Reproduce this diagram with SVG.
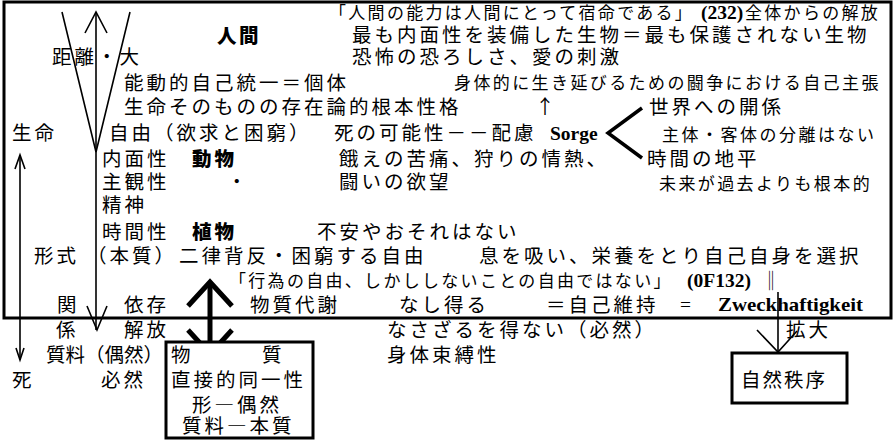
<svg xmlns="http://www.w3.org/2000/svg" width="895" height="440" viewBox="0 0 895 440">
<style>
text { font-family: "Noto Sans CJK JP", "Noto Sans", sans-serif; font-size: 19.5px; letter-spacing: 3px; fill: #000; }
.s { font-size: 17px; letter-spacing: 2.3px; }
.b { font-weight: 900; }
.lat { font-family: "Liberation Serif", "Noto Sans CJK JP", serif; font-weight: bold; letter-spacing: 0; }
.ln { fill: none; stroke: #000; stroke-width: 1.6; }
.thick { fill: none; stroke: #000; stroke-width: 5; stroke-linejoin: miter; }
.frame { fill: none; stroke: #000; stroke-width: 3; }
.box { fill: #fff; stroke: #000; stroke-width: 3; }
</style>
<rect x="0" y="0" width="895" height="440" fill="#fff"/>
<g id="frame">
<rect class="frame" x="4" y="2" width="887" height="316"/>
</g>
<g id="connectors">
<polyline class="ln" points="62,12 96,152 130,12"/>
<line class="ln" x1="96" y1="12" x2="96" y2="330"/>
<polyline class="ln" points="85,33 96,12 107,33"/>
<polyline class="ln" points="87,306 97,330 107,306"/>
<line class="ln" x1="20" y1="155" x2="20" y2="360"/>
<polyline class="ln" points="15,169 20,155 25,169"/>
<polyline class="ln" points="16,348 20,360 24,348"/>
<polyline fill="none" stroke="#000" stroke-width="3.5" points="642,108 608,133 642,158"/>
<line class="thick" x1="210" y1="283" x2="210" y2="353"/>
<polyline class="thick" points="188,306 210,282 232,306"/>
<polyline class="thick" points="188,330 210,354 232,330"/>
<line class="ln" x1="778" y1="292" x2="778" y2="352"/>
<polyline class="ln" points="757,330 778,352 797,331"/>
</g>
<g id="box-matter">
<rect class="box" x="166" y="342" width="147" height="96"/>
<text x="171" y="362">物</text>
<text x="262" y="362">質</text>
<text x="171" y="387">直接的同一性</text>
<text x="192" y="412">形―偶然</text>
<text x="182" y="433">質料―本質</text>
</g>
<g id="box-nature">
<rect class="box" x="732" y="353" width="115" height="50"/>
<text x="741" y="387" style="letter-spacing:2px">自然秩序</text>
</g>
<g id="texts">
<text class="s" x="329" y="19">「人間の能力は人間にとって宿命である」</text>
<text class="lat" x="701" y="19" font-size="17">(232)</text>
<text class="s" x="745" y="19">全体からの解放</text>
<text class="b" x="217" y="43" style="letter-spacing:2.5px">人間</text>
<text x="352" y="41.5">最も内面性を装備した生物＝最も保護されない生物</text>
<text x="52" y="64">距離・大</text>
<text x="352" y="64">恐怖の恐ろしさ、愛の刺激</text>
<text x="124" y="90">能動的自己統一＝個体</text>
<text class="s" x="454" y="89" style="letter-spacing:2.4px">身体的に生き延びるための闘争における自己主張</text>
<text x="124" y="113.5">生命そのものの存在論的根本性格</text>
<text x="545" y="113.5" text-anchor="middle" style="letter-spacing:0">↑</text>
<text x="649" y="113.5">世界への開係</text>
<text x="12" y="139.5">生命</text>
<text x="109" y="139.5">自由（欲求と困窮）</text>
<text x="334" y="139.5">死の可能性－－配慮</text>
<text class="lat" x="550" y="140" font-size="20">Sorge</text>
<text class="s" x="662" y="141" style="letter-spacing:2.5px">主体・客体の分離はない</text>
<text x="102" y="165.5">内面性</text>
<text class="b" x="192" y="165.5">動物</text>
<text x="339" y="165.5">餓えの苦痛、狩りの情熱、</text>
<text x="647" y="165.5">時間の地平</text>
<text x="102" y="188.5">主観性</text>
<text x="227" y="188.5">・</text>
<text x="339" y="188.5">闘いの欲望</text>
<text class="s" x="659" y="190" style="letter-spacing:2.4px">未来が過去よりも根本的</text>
<text x="102" y="211.5">精神</text>
<text x="102" y="238.5">時間性</text>
<text class="b" x="192" y="238.5">植物</text>
<text x="317" y="238.5">不安やおそれはない</text>
<text x="34" y="262.5">形式</text>
<text x="87" y="262.5">（本質）</text>
<text x="179" y="262.5">二律背反・困窮する自由</text>
<text x="479" y="262.5">息を吸い、栄養をとり自己自身を選択</text>
<text class="s" x="229" y="287">「行為の自由、しかししないことの自由ではない」</text>
<text class="lat" x="687" y="287" font-size="16">(0F132)</text>
<text x="771" y="288" text-anchor="middle" style="letter-spacing:0">‖</text>
<text x="57" y="311.5">関</text>
<text x="124" y="311.5">依存</text>
<text x="250" y="311.5">物質代謝</text>
<text x="399" y="311.5">なし得る</text>
<text x="546" y="311.5">＝自己維持</text>
<text class="lat" x="680" y="311" font-size="18" style="font-weight:normal">=</text>
<text class="lat" x="718" y="311" font-size="20" textLength="145" lengthAdjust="spacingAndGlyphs">Zweckhaftigkeit</text>
<text x="56" y="336.5">係</text>
<text x="124" y="336.5">解放</text>
<text x="387" y="336.5">なさざるを得ない（必然）</text>
<text x="786" y="336.5">拡大</text>
<text x="46" y="361.5" style="letter-spacing:0px">質料（偶然）</text>
<text x="387" y="361.5">身体束縛性</text>
<text x="12" y="386.5">死</text>
<text x="101" y="386.5">必然</text>
</g>
</svg>
